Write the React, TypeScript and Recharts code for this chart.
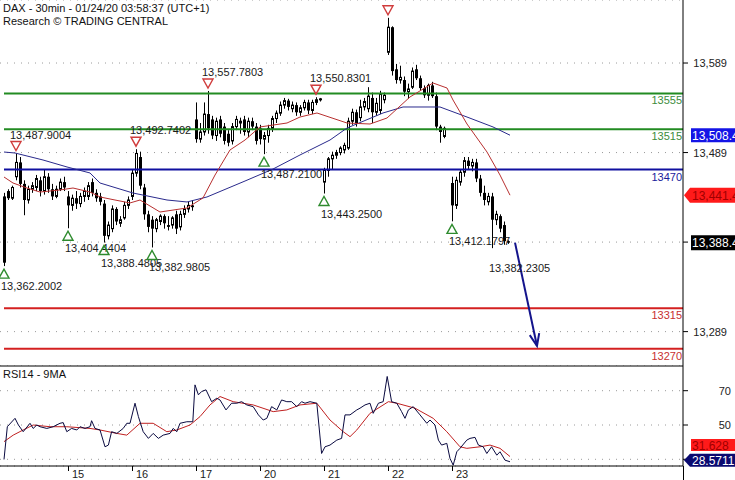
import React from 'react';
import {
    ComposedChart,
    Bar,
    Line,
    Scatter,
    XAxis,
    YAxis,
    CartesianGrid,
    ReferenceLine,
    ReferenceDot
} from 'recharts';

// 30min candles, [open, high, low, close]; null = no bar
const candles: ([number, number, number, number] | null)[] = [
    [13440, 13444, 13362.2002, 13366], [13446, 13448, 13436, 13438], [13438, 13452, 13436, 13450],
    [13462, 13487.9004, 13458, 13478], [13478, 13484, 13450, 13454], [13454, 13458, 13419, 13436],
    [13436, 13452, 13432, 13448], [13448, 13456, 13444, 13452], [13450, 13464, 13446, 13460],
    [13458, 13462, 13440, 13446], [13446, 13470, 13442, 13462], [13462, 13466, 13444, 13448],
    [13448, 13454, 13436, 13440], [13440, 13452, 13438, 13448], [13448, 13460, 13446, 13456],
    [13456, 13462, 13446, 13450],
    // 15
    [13440, 13446, 13404.4404, 13430], [13430, 13442, 13424, 13438], [13438, 13446, 13426, 13432],
    [13432, 13444, 13428, 13440], [13440, 13450, 13434, 13446], [13440, 13456, 13436, 13452],
    [13456, 13460, 13440, 13444], [13444, 13448, 13434, 13438], [13440, 13444, 13430, 13434],
    [13432, 13436, 13388.4805, 13396], [13396, 13412, 13392, 13408], [13404, 13430, 13400, 13426],
    [13426, 13428, 13408, 13412], [13410, 13418, 13406, 13414], [13416, 13434, 13414, 13430],
    [13430, 13440, 13426, 13436],
    // 16
    [13440, 13470, 13436, 13466], [13466, 13492.7402, 13462, 13488], [13484, 13490, 13448, 13452],
    [13450, 13454, 13414, 13420], [13420, 13424, 13400, 13406], [13414, 13418, 13382.9805, 13404],
    [13404, 13416, 13400, 13414], [13412, 13420, 13408, 13418], [13418, 13420, 13404, 13410],
    [13408, 13418, 13402, 13406], [13408, 13418, 13404, 13416], [13420, 13424, 13398, 13404],
    [13406, 13424, 13402, 13420], [13420, 13430, 13416, 13426], [13426, 13434, 13422, 13430],
    [13430, 13436, 13424, 13428],
    // 17
    [13526, 13545, 13500, 13504], [13504, 13522, 13500, 13512], [13512, 13545, 13508, 13532],
    [13532, 13557.7803, 13510, 13516], [13526, 13530, 13504, 13508], [13508, 13528, 13502, 13524],
    [13526, 13530, 13506, 13510], [13518, 13522, 13498, 13502], [13510, 13514, 13496, 13500],
    [13502, 13522, 13498, 13518], [13518, 13530, 13514, 13526], [13522, 13528, 13510, 13524],
    [13526, 13530, 13508, 13512], [13512, 13528, 13506, 13524], [13524, 13528, 13514, 13518],
    [13518, 13522, 13498, 13502],
    // 20
    [13516, 13520, 13498, 13504], [13504, 13512, 13487.21, 13508], [13508, 13520, 13500, 13516],
    [13516, 13530, 13512, 13527], [13527, 13536, 13522, 13533], [13533, 13546, 13530, 13542],
    [13542, 13550, 13538, 13547], [13547, 13549, 13536, 13540], [13538, 13546, 13534, 13542],
    [13542, 13545, 13530, 13534], [13534, 13542, 13530, 13539], [13539, 13548, 13536, 13545],
    [13545, 13548, 13532, 13536], [13536, 13548, 13532, 13545], [13545, 13550.8301, 13542, 13548],
    [13548, 13550, 13546, 13549],
    // 21
    [13456, 13472, 13443.25, 13469], [13469, 13484, 13462, 13482], [13482, 13490, 13470, 13486],
    [13486, 13492, 13482, 13489], [13489, 13496, 13486, 13494], [13492, 13500, 13488, 13497],
    [13494, 13528, 13492, 13524], [13524, 13538, 13520, 13534], [13534, 13537, 13518, 13522],
    [13528, 13548, 13524, 13540], [13540, 13550, 13536, 13546], [13538, 13562, 13534, 13552],
    [13550, 13556, 13522, 13534], [13534, 13550, 13530, 13544], [13536, 13558, 13532, 13554],
    [13548, 13556, 13544, 13553],
    // 22
    [13601, 13639.5, 13598, 13629], [13629, 13630, 13575, 13580], [13582, 13588, 13566, 13570],
    [13570, 13586, 13566, 13573], [13570, 13574, 13552, 13557], [13557, 13566, 13549, 13560],
    [13562, 13584, 13560, 13580], [13582, 13587, 13570, 13572], [13572, 13575, 13558, 13561],
    [13561, 13564, 13550, 13553], [13553, 13566, 13547, 13564], [13564, 13568, 13550, 13552],
    [13552, 13556, 13514, 13518], [13518, 13520, 13500, 13512], [13507, 13518, 13505, 13516],
    null,
    // 23
    [13455, 13462, 13412.1797, 13430], [13430, 13462, 13426, 13458], [13456, 13470, 13452, 13467],
    [13467, 13484, 13462, 13480], [13480, 13484, 13470, 13474], [13474, 13482, 13468, 13478],
    [13478, 13482, 13456, 13460], [13460, 13464, 13440, 13444], [13444, 13452, 13430, 13436],
    [13434, 13444, 13430, 13440], [13440, 13444, 13382.2305, 13414], [13414, 13424, 13408, 13420],
    [13418, 13420, 13400, 13404], [13408, 13412, 13386, 13390], [13390, 13391, 13387, 13388.4]
];

const dayTicks = [16, 32, 48, 64, 80, 96, 112];
const dayLabels = ['15', '16', '17', '20', '21', '22', '23'];
const priceTicks = [13289, 13389, 13489, 13589];
const rsiTicks = [30, 50, 70];

// support / resistance levels
const levelValues = [13555, 13515, 13470, 13315, 13270];

// [bar index, value]
const redMa: [number, number][] = [
    [0, 13461.7], [2.25, 13455.0], [5.75, 13449.4], [9, 13444.9], [14, 13447.2], [17.25, 13449.4],
    [21.5, 13444.9], [24, 13439.4], [27.75, 13436.0], [31.5, 13432.7], [34, 13436.0], [39, 13422.6],
    [45.75, 13427.1], [49.75, 13438.3], [52.75, 13463.9], [56.5, 13491.9], [60.25, 13503.0],
    [64, 13517.6], [70.75, 13522.0], [74, 13528.7], [78.25, 13533.2], [85.75, 13522.0],
    [91.5, 13520.9], [95.75, 13527.6], [101.5, 13551.1], [107.25, 13566.7], [110.75, 13561.1],
    [112.25, 13547.7], [115.75, 13520.9], [120.75, 13489.6], [124, 13463.9], [126.5, 13441.4]
];

const blueMa: [number, number][] = [
    [0, 13489.6], [2.75, 13488.5], [9.75, 13480.7], [15.75, 13472.9], [21.5, 13466.2], [24, 13455.0],
    [32.25, 13443.8], [40.75, 13436.0], [45.75, 13433.8], [50.75, 13439.4], [60.25, 13457.2],
    [67.25, 13470.6], [74, 13486.3], [81.5, 13503.0], [85.75, 13516.4], [94.75, 13533.2],
    [99.75, 13539.9], [109, 13539.9], [115.75, 13528.7], [122.25, 13517.6], [126.5, 13508.4]
];

const rsi14: [number, number][] = [
    [0, 29.9], [0.83, 49.0], [2.75, 53.9], [3.6, 50.0], [4.8, 46.1], [6.5, 51.0], [7.3, 48.0],
    [8.2, 50.0], [9, 49.0], [10.7, 48.0], [12.3, 49.0], [14, 51.0], [14.8, 51.4], [15.7, 46.1],
    [16.9, 48.0], [18.2, 47.1], [19, 49.0], [20.25, 48.0], [21.5, 49.0], [21.9, 52.5], [22.75, 48.0],
    [24, 47.1], [25.25, 37.3], [26.1, 38.3], [26.9, 46.1], [28.2, 45.1], [29.8, 48.0], [30.7, 51.0],
    [31.5, 51.0], [32.75, 62.7], [33.6, 54.9], [34.8, 46.1], [36.1, 42.2], [37.3, 45.1], [38.6, 42.2],
    [39.8, 44.1], [41.5, 45.1], [42.3, 48.0], [43.2, 46.1], [44, 51.0], [45.7, 51.9], [47.2, 51.9],
    [47.75, 73.4], [48.6, 67.6], [49.4, 69.5], [50.5, 70.5], [51.9, 63.6], [53.2, 65.6], [54, 64.6],
    [55.5, 58.8], [56.9, 62.7], [58.2, 62.7], [59.4, 63.6], [60.7, 61.7], [62.3, 60.7], [63.6, 55.9],
    [64.8, 52.9], [65.7, 53.9], [66.9, 60.7], [68.2, 58.8], [69.4, 64.6], [70.7, 63.6], [71.9, 63.6],
    [73.2, 60.7], [74.4, 63.6], [75.25, 62.7], [76.5, 63.6], [78.2, 62.7], [79.4, 33.4], [80.25, 37.3],
    [81.5, 38.3], [83.2, 41.2], [84.4, 42.2], [85.25, 55.9], [86.5, 55.9], [88.2, 58.8], [89, 59.8],
    [90.25, 61.7], [91.5, 62.7], [92.3, 56.8], [93.6, 62.7], [94.8, 63.6], [95.8, 78.3], [96.9, 63.6],
    [98.2, 62.7], [99.4, 57.8], [100.25, 53.9], [101.1, 58.8], [102.3, 60.7], [104, 55.9], [105.7, 51.0],
    [106.5, 52.9], [107.75, 50.0], [108.6, 41.2], [109.4, 38.3], [110.7, 39.3], [111.5, 30.5],
    [112.3, 26.6], [113.2, 34.4], [114, 36.4], [115.7, 41.2], [116.5, 42.2], [117.75, 42.8],
    [118.6, 38.3], [119.8, 37.3], [120.7, 33.4], [121.9, 37.3], [123.2, 32.4], [124, 34.4],
    [125.25, 29.5], [126.5, 28.5711]
];

const rsiMa9: [number, number][] = [
    [0, 40.3], [2.3, 44.1], [4.8, 47.1], [7.3, 50.0], [11.5, 49.0], [15.7, 49.0], [21.5, 48.0],
    [24, 47.1], [28.2, 45.1], [30.7, 44.1], [34, 51.0], [37.3, 51.0], [40.7, 46.1], [43.2, 47.1],
    [46.5, 50.0], [49, 54.9], [51.5, 61.7], [54, 66.6], [57.3, 63.6], [62.3, 61.7], [67.3, 57.8],
    [70.7, 58.8], [74, 61.7], [78.2, 62.7], [81.5, 52.9], [84.8, 46.1], [86.5, 43.2], [88.2, 47.1],
    [91.5, 56.8], [96.1, 63.6], [98.2, 62.7], [102.75, 59.8], [107.3, 53.9], [110.7, 46.1],
    [114, 37.3], [115.7, 36.4], [119, 37.3], [121.5, 38.3], [124, 36.4], [126.5, 31.628]
];

// swing markers [bar index, price, show marker]
const highMarks: [number, number, boolean][] = [
    [3, 13487.9004, true], [33, 13492.7402, true], [51, 13557.7803, true],
    [78, 13550.8301, true], [96, 13639.5, false]
];
const lowMarks: [number, number, boolean][] = [
    [0, 13362.2002, true], [16, 13404.4404, true], [25, 13388.4805, true], [37, 13382.9805, true],
    [65, 13487.21, true], [80, 13443.25, true], [112, 13412.1797, true], [122, 13382.2305, false]
];

const targetFrom: [number, number] = [127.75, 13388.4];
const targetTo: [number, number] = [133.25, 13273];

const lastClose = 13388.4;
const lastBlueMa = 13508.4;
const lastRedMa = 13441.4;
const lastRsi = 28.5711;
const lastRsiMa = 31.628;

const FONT = '"Liberation Sans", Arial, sans-serif';
const levelColors = ['#228b22', '#228b22', '#1010a0', '#d42020', '#d42020'];
const levelTextColors = ['#3c8c3c', '#3c8c3c', '#1a1a9c', '#c83030', '#c83030'];
const X_DOMAIN: [number, number] = [-1, 169.75];

const candleData = candles.map((c, i) =>
    c ? { i, o: c[0], h: c[1], l: c[2], c: c[3], hl: [c[2], c[1]] } : { i, hl: null }
);
const toPts = (arr: [number, number][]) => arr.map(([i, v]) => ({ i, v }));
const fmt4 = (v: number) =>
    v.toLocaleString('en-US', { minimumFractionDigits: 4, maximumFractionDigits: 4 });

const Candle = (props: any) => {
    const { x, y, width, height, payload } = props;
    if (!payload || payload.o == null || !isFinite(y) || !isFinite(height)) return <g />;
    const { o, h, l, c } = payload;
    const top = Math.min(y, y + height);
    const hh = Math.abs(height);
    const ppu = hh / (h - l || 1);
    const cx = Math.round(x + width / 2);
    const yO = top + (h - o) * ppu;
    const yC = top + (h - c) * ppu;
    const bTop = Math.min(yO, yC);
    const bH = Math.max(1, Math.abs(yO - yC));
    const up = c >= o;
    return (
        <g>
            <line x1={cx + 0.5} x2={cx + 0.5} y1={top} y2={top + hh} stroke="#000" strokeWidth={1} />
            {up ? (
                <rect x={cx - 0.5} y={bTop} width={2} height={bH} fill="#fff" stroke="#000" strokeWidth={1} />
            ) : (
                <rect x={cx - 1} y={bTop} width={3} height={bH} fill="#000" />
            )}
        </g>
    );
};

const HighMark = (props: any) => {
    const { cx, cy, payload } = props;
    return (
        <g>
            <polygon
                points={`${cx - 5},${cy - 12} ${cx + 5},${cy - 12} ${cx},${cy - 3}`}
                fill="none"
                stroke="#d03c3c"
                strokeWidth={1.4}
            />
            {payload.show && (
                <text x={cx - 6} y={cy - 15} fontSize={11} fontFamily={FONT} fill="#1a1a1a">
                    {fmt4(payload.p)}
                </text>
            )}
        </g>
    );
};

const LowMark = (props: any) => {
    const { cx, cy, payload } = props;
    return (
        <g>
            {payload.show && (
                <polygon
                    points={`${cx - 5},${cy + 12} ${cx + 5},${cy + 12} ${cx},${cy + 3}`}
                    fill="none"
                    stroke="#2e8b2e"
                    strokeWidth={1.4}
                />
            )}
            <text x={cx - 3} y={cy + 24} fontSize={11} fontFamily={FONT} fill="#1a1a1a">
                {fmt4(payload.p)}
            </text>
        </g>
    );
};

const TargetArrow = (props: any) => {
    const { x1, y1, x2, y2 } = props;
    if (![x1, y1, x2, y2].every(isFinite)) return <g />;
    const ang = Math.atan2(y2 - y1, x2 - x1);
    const len = 13;
    const s = 0.38;
    const ax = x2 - len * Math.cos(ang - s);
    const ay = y2 - len * Math.sin(ang - s);
    const bx = x2 - len * Math.cos(ang + s);
    const by = y2 - len * Math.sin(ang + s);
    return (
        <g>
            <line x1={x1} y1={y1} x2={x2} y2={y2} stroke="#14148c" strokeWidth={2} />
            <polyline points={`${ax},${ay} ${x2},${y2} ${bx},${by}`} fill="none" stroke="#14148c" strokeWidth={2} />
        </g>
    );
};

const LevelText = (text: string, color: string) => (props: any) => (
    <text x={props.cx - 1} y={props.cy + 11} textAnchor="end" fontSize={11} fontFamily={FONT} fill={color}>
        {text}
    </text>
);

const ValueBox = (text: string, bg: string, fg: string, arrow: boolean, dy = 0, h = 14) => (props: any) => {
    const { cx } = props;
    const cy = props.cy + dy;
    const left = cx + 7;
    const body = arrow
        ? `${cx + 1},${cy} ${left},${cy - h / 2} ${cx + 60},${cy - h / 2} ${cx + 60},${cy + h / 2} ${left},${cy + h / 2}`
        : `${left + 1},${cy - h / 2} ${cx + 60},${cy - h / 2} ${cx + 60},${cy + h / 2} ${left + 1},${cy + h / 2}`;
    return (
        <g>
            <polygon points={body} fill={bg} />
            <text x={left + 2} y={cy + 4.5} fontSize={12} fontFamily={FONT} fill={fg}>
                {text}
            </text>
        </g>
    );
};

// the 13,389 label sits under the last-price box, so it is left blank
const PriceTick = (props: any) => (
    <text x={727} y={props.y + 4} textAnchor="end" fontSize={11} fontFamily={FONT} fill="#222">
        {props.payload.value === 13389 ? '' : props.payload.value.toLocaleString('en-US')}
    </text>
);

const RsiTick = (props: any) => (
    <text x={731} y={props.y + 4} textAnchor="end" fontSize={11} fontFamily={FONT} fill="#222">
        {props.payload.value === 30 ? '' : props.payload.value}
    </text>
);

const DayTick = (props: any) => {
    const { x, y, payload } = props;
    const idx = dayTicks.indexOf(payload.value);
    return (
        <g>
            <line x1={x + 0.5} x2={x + 0.5} y1={y} y2={y + 5} stroke="#000" />
            <text x={x + 4} y={y + 12} fontSize={11} fontFamily={FONT} fill="#222">
                {dayLabels[idx]}
            </text>
        </g>
    );
};

export default function App() {
    const highData = highMarks.map(([i, p, show]) => ({ i, p, show }));
    const lowData = lowMarks.map(([i, p, show]) => ({ i, p, show }));
    const textStyle: React.CSSProperties = { position: 'absolute', left: 3, fontSize: 11, fontFamily: FONT, color: '#111', lineHeight: '13px', whiteSpace: 'nowrap' };

    return (
        <div style={{ position: 'relative', width: 735, height: 480, background: '#fff', overflow: 'hidden' }}>
            <style>{'body{margin:0}'}</style>
            <div style={{ position: 'absolute', top: 0, left: 0 }}>
                <ComposedChart width={735} height={367} data={candleData} margin={{ top: 0, right: 0, bottom: 0, left: 0 }}>
                    <CartesianGrid vertical={false} stroke="#9a9a9a" strokeDasharray="1 6" />
                    <XAxis dataKey="i" type="number" domain={X_DOMAIN} allowDataOverflow tick={false} tickLine={false} height={1} axisLine={{ stroke: '#000' }} />
                    <YAxis
                        orientation="right"
                        width={52}
                        domain={[13250.6, 13659.4]}
                        allowDataOverflow
                        ticks={priceTicks}
                        interval={0}
                        tick={PriceTick}
                        tickSize={5}
                        tickLine={{ stroke: '#000' }}
                        axisLine={{ stroke: '#000' }}
                    />
                    {levelValues.map((v, k) => (
                        <ReferenceLine
                            key={`lv-${v}`}
                            segment={[{ x: 0, y: v }, { x: X_DOMAIN[1], y: v }]}
                            stroke={levelColors[k]}
                            strokeWidth={2}
                        />
                    ))}
                    <Bar dataKey="hl" barSize={3} shape={Candle} isAnimationActive={false} />
                    <Line data={toPts(blueMa)} dataKey="v" type="linear" stroke="#2a2a8c" strokeWidth={1} dot={false} activeDot={false} isAnimationActive={false} />
                    <Line data={toPts(redMa)} dataKey="v" type="linear" stroke="#b83030" strokeWidth={1} dot={false} activeDot={false} isAnimationActive={false} />
                    <Scatter data={highData} dataKey="p" shape={HighMark} isAnimationActive={false} />
                    <Scatter data={lowData} dataKey="p" shape={LowMark} isAnimationActive={false} />
                    <ReferenceLine
                        segment={[{ x: targetFrom[0], y: targetFrom[1] }, { x: targetTo[0], y: targetTo[1] }]}
                        shape={TargetArrow}
                    />
                    {levelValues.map((v, k) => (
                        <ReferenceDot key={`lt-${v}`} x={X_DOMAIN[1]} y={v} shape={LevelText(String(v), levelTextColors[k])} />
                    ))}
                    <ReferenceDot x={X_DOMAIN[1]} y={lastBlueMa} shape={ValueBox('13,508.4', '#1414e6', '#fff', false)} />
                    <ReferenceDot x={X_DOMAIN[1]} y={lastRedMa} shape={ValueBox('13,441.4', '#ff1a1a', '#a00000', true, 0, 15)} />
                    <ReferenceDot x={X_DOMAIN[1]} y={lastClose} shape={ValueBox('13,388.4', '#000', '#fff', false, 0, 15)} />
                </ComposedChart>
            </div>
            <div style={{ position: 'absolute', top: 366, left: 0 }}>
                <ComposedChart width={735} height={114} data={toPts(rsi14)} margin={{ top: 0, right: 0, bottom: 0, left: 0 }}>
                    <CartesianGrid vertical={false} stroke="#9a9a9a" strokeDasharray="1 6" />
                    <XAxis
                        dataKey="i"
                        type="number"
                        domain={X_DOMAIN}
                        allowDataOverflow
                        ticks={dayTicks}
                        interval={0}
                        tick={DayTick}
                        tickLine={false}
                        tickSize={0}
                        tickMargin={0}
                        height={14}
                        axisLine={{ stroke: '#000' }}
                    />
                    <YAxis
                        orientation="right"
                        width={52}
                        domain={[26.1, 84.4]}
                        allowDataOverflow
                        ticks={rsiTicks}
                        interval={0}
                        tick={RsiTick}
                        tickSize={5}
                        tickLine={{ stroke: '#000' }}
                        axisLine={{ stroke: '#000' }}
                    />
                    <Line data={toPts(rsiMa9)} dataKey="v" type="linear" stroke="#c02020" strokeWidth={1} dot={false} activeDot={false} isAnimationActive={false} />
                    <Line dataKey="v" type="linear" stroke="#0a0a40" strokeWidth={1} dot={false} activeDot={false} isAnimationActive={false} />
                    <ReferenceDot x={X_DOMAIN[1]} y={lastRsiMa} shape={ValueBox('31.628', '#ff1a1a', '#a00000', false, -11.5, 12)} />
                    <ReferenceDot x={X_DOMAIN[1]} y={lastRsi} shape={ValueBox('28.5711', '#0a0a70', '#fff', true, -1.5, 13)} />
                </ComposedChart>
            </div>
            <div style={{ position: 'absolute', left: 683, top: 466, width: 1, height: 14, background: '#000' }} />
            <div style={{ ...textStyle, top: 2 }}>DAX - 30min - 01/24/20 03:58:37 (UTC+1)</div>
            <div style={{ ...textStyle, top: 15 }}>Research © TRADING CENTRAL</div>
            <div style={{ ...textStyle, top: 368 }}>RSI14 - 9MA</div>
        </div>
    );
}
